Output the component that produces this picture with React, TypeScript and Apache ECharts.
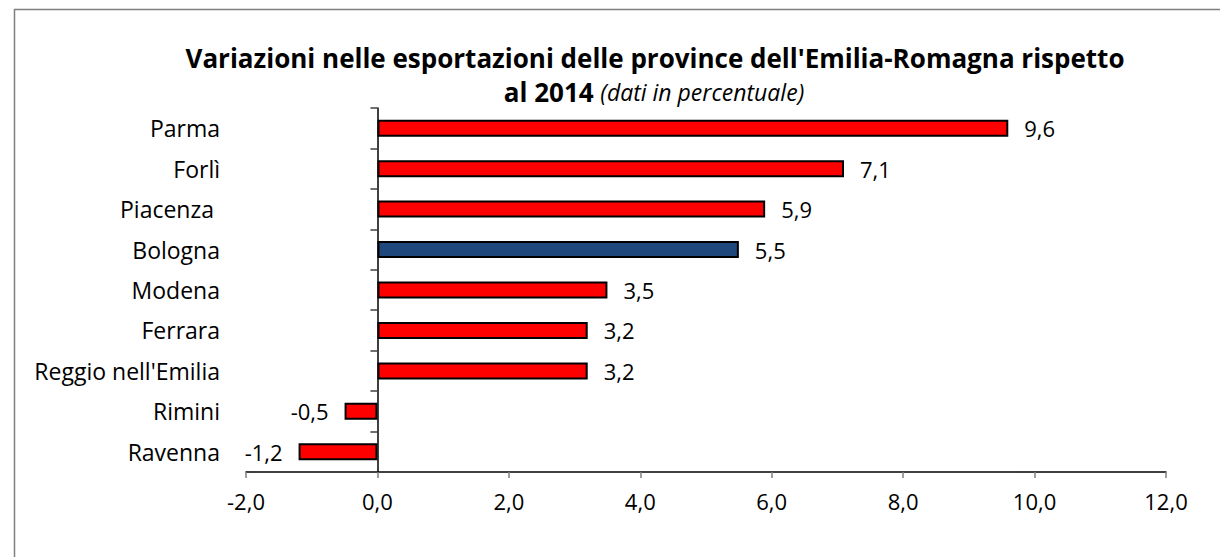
import React, { useEffect, useRef } from "react";
import * as echarts from "echarts";

const categories = ["Parma", "Forlì", "Piacenza ", "Bologna", "Modena", "Ferrara", "Reggio nell'Emilia", "Rimini", "Ravenna"];
const values = [9.6, 7.1, 5.9, 5.5, 3.5, 3.2, 3.2, -0.5, -1.2];
const highlight = ["Bologna"];
const xTicks = { min: -2, max: 12, interval: 2 };

const FONT = "Open Sans";

export default function App() {
  const ref = useRef<HTMLDivElement>(null);
  useEffect(() => {
    document.body.style.margin = "0";
    const chart = echarts.init(ref.current!, null, { renderer: "svg" });
    const fmt = (v: number) => v.toFixed(1).replace(".", ",");
    chart.setOption({
      animation: false,
      backgroundColor: "#ffffff",
      textStyle: { fontFamily: FONT },
      graphic: [
        {
          type: "rect",
          shape: { x: 14.5, y: 9.5, width: 1240, height: 600 },
          style: { fill: "none", stroke: "#7f7f7f", lineWidth: 1.5 },
          silent: true,
        },
        {
          type: "text",
          x: 655,
          y: 58,
          style: {
            text: "Variazioni nelle esportazioni delle province dell'Emilia-Romagna rispetto",
            font: `bold 26px ${FONT}`,
            fill: "#000",
            textAlign: "center",
            textVerticalAlign: "middle",
          },
        },
        {
          type: "text",
          x: 654,
          y: 92,
          style: {
            text: "{b|al 2014}  {i|(dati in percentuale)}",
            textAlign: "center",
            textVerticalAlign: "middle",
            rich: {
              b: { fontFamily: FONT, fontWeight: "bold", fontSize: 26, fill: "#000" },
              i: { fontFamily: FONT, fontStyle: "italic", fontSize: 23, fill: "#000" },
            },
          },
        },
      ],
      grid: { left: 246, right: 54, top: 108, bottom: 85, containLabel: false },
      xAxis: {
        type: "value",
        min: xTicks.min,
        max: xTicks.max,
        interval: xTicks.interval,
        splitLine: { show: false },
        axisLine: { show: true, onZero: false, lineStyle: { color: "#000", width: 1.5 } },
        axisTick: { show: true, length: 6, lineStyle: { color: "#7f7f7f", width: 1.5 } },
        axisLabel: { formatter: (v: number) => fmt(v), color: "#000", fontSize: 22, fontFamily: FONT, margin: 18 },
      },
      yAxis: [
        {
          type: "category",
          data: categories,
          inverse: true,
          position: "left",
          axisLine: { show: false, onZero: false },
          axisTick: { show: false },
          axisLabel: { color: "#000", fontSize: 23, fontFamily: FONT, margin: 26 },
        },
        {
          type: "category",
          data: categories,
          inverse: true,
          position: "left",
          axisLine: { show: true, onZero: true, lineStyle: { color: "#000", width: 1.5 } },
          axisTick: { show: true, length: 7, lineStyle: { color: "#404040", width: 1.5 } },
          axisLabel: { show: false },
        },
      ],
      series: [
        {
          type: "bar",
          yAxisIndex: 0,
          barWidth: 17,
          data: values.map((v, i) => ({
            value: v,
            itemStyle: { color: highlight.includes(categories[i]) ? "#1f497d" : "#ff0000" },
            label: { position: v < 0 ? "left" : "right" },
          })),
          itemStyle: { borderColor: "#000", borderWidth: 2 },
          label: {
            show: true,
            distance: 16,
            color: "#000",
            fontSize: 22,
            fontFamily: FONT,
            formatter: (p: any) => fmt(p.value),
          },
        },
      ],
    });
    return () => chart.dispose();
  }, []);
  return <div ref={ref} style={{ width: 1220, height: 557 }} />;
}
